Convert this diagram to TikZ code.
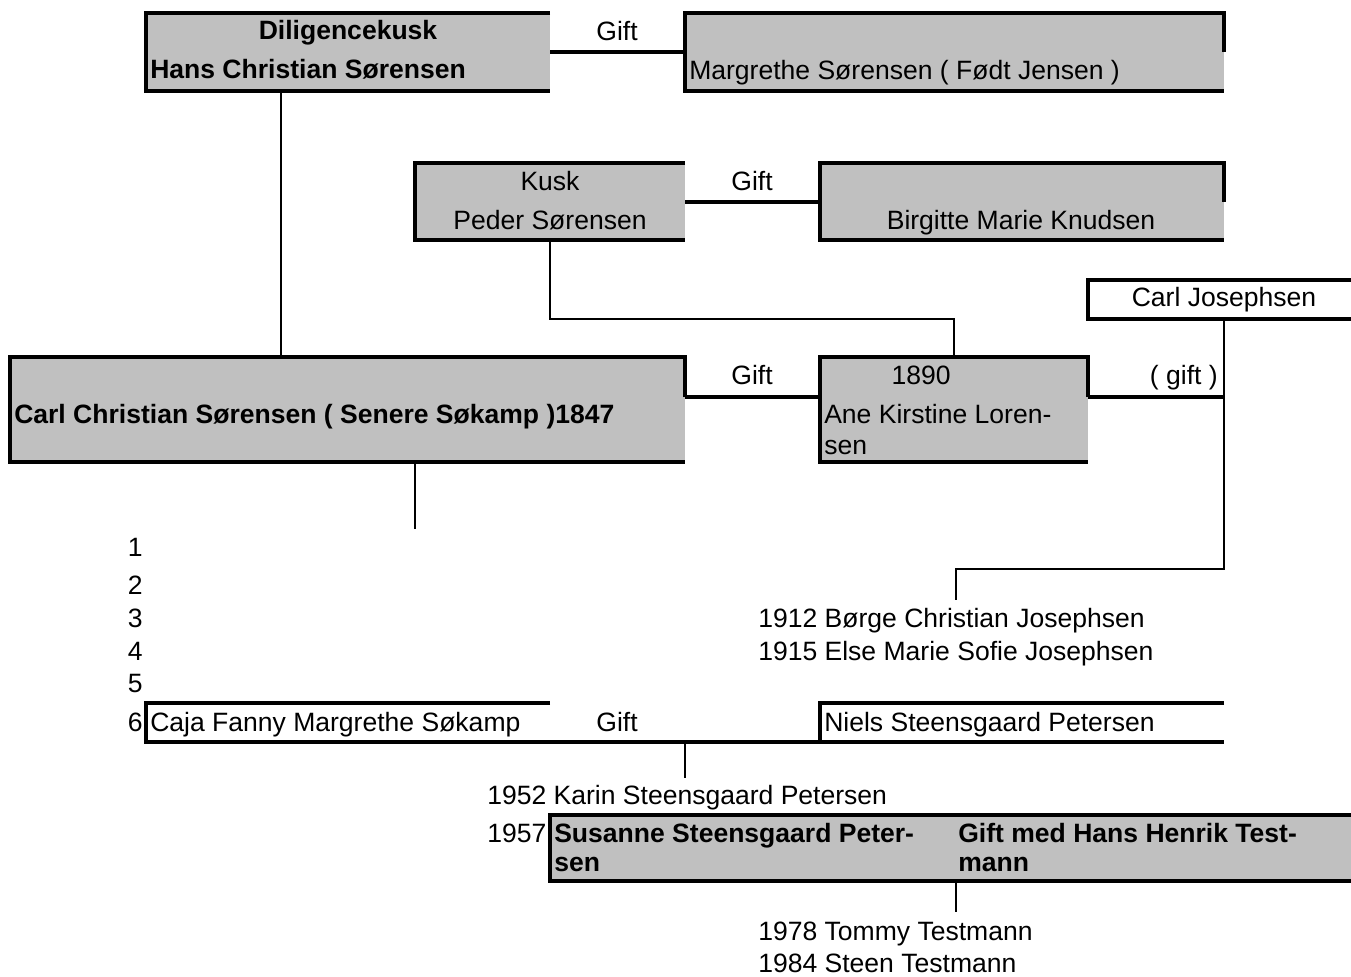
\documentclass[tikz,border=0pt]{standalone}
\usepackage{fontspec}
\setmainfont{Liberation Sans}
\usetikzlibrary{calc}
\definecolor{cellgray}{RGB}{192,192,192}

\begin{document}
\begin{tikzpicture}[x=0.75pt, y=-0.75pt,
  cell/.style={anchor=north west, inner sep=0pt, outer sep=0pt, fill=cellgray},
  blank/.style={cell, fill=white},
  rim/.style={line width=3pt},
  link/.style={line width=1.5pt},
  lbl/.style={anchor=base west, inner sep=0pt, yshift=0.75pt, font=\fontsize{19.9}{24}\selectfont},
  clbl/.style={lbl, anchor=base},
  rlbl/.style={lbl, anchor=base east},
  blbl/.style={lbl, font=\fontsize{19.9}{24}\selectfont\bfseries},
  bclbl/.style={blbl, anchor=base}]

\def\PX{0.75pt}

\useasboundingbox (0,0) rectangle (1351,976);

% Cells
\node[cell, minimum width=404*\PX, minimum height=78*\PX] (hcs) at (146,13) {};
\node[cell, minimum width=539*\PX, minimum height=78*\PX] (mgs) at (685,13) {};
\node[cell, minimum width=270*\PX, minimum height=77*\PX] (ps) at (415,163) {};
\node[cell, minimum width=404*\PX, minimum height=77*\PX] (bmk) at (820,163) {};
\node[blank, minimum width=263*\PX, minimum height=39*\PX] (cj) at (1088,280) {};
\node[cell, minimum width=675*\PX, minimum height=105*\PX] (ccs) at (10,357) {};
\node[cell, minimum width=268*\PX, minimum height=105*\PX] (aks) at (820,357) {};
\node[blank, minimum width=404*\PX, minimum height=39*\PX] (cfm) at (146,703) {};
\node[blank, minimum width=404*\PX, minimum height=39*\PX] (nsp) at (820,703) {};
\node[cell, minimum width=801*\PX, minimum height=66*\PX] (ssp) at (550,815) {};

% Cell borders
\draw[rim] (hcs.north east) -- (hcs.north west) -- (hcs.south west) -- (hcs.south east);
\draw[rim] (mgs.east) -- (mgs.north east) -- (mgs.north west) -- (mgs.south west) -- (mgs.south east);
\draw[rim] (ps.north east) -- (ps.north west) -- (ps.south west) -- (ps.south east);
\draw[rim] (bmk.east) -- (bmk.north east) -- (bmk.north west) -- (bmk.south west) -- (bmk.south east);
\draw[rim] (cj.north east) -- (cj.north west) -- (cj.south west) -- (cj.south east);
\coordinate (wed) at ($(ccs.north east)+(0,40)$);
\coordinate (wed2) at ($(aks.north east)+(0,40)$);
\draw[rim] (wed) -- (ccs.north east) -- (ccs.north west) -- (ccs.south west) -- (ccs.south east);
\draw[rim] (wed2) -- (aks.north east) -- (aks.north west) -- (aks.south west) -- (aks.south east);
\draw[rim] (cfm.north east) -- (cfm.north west) -- (cfm.south west) -- (nsp.south east);
\draw[rim] (nsp.north east) -- (nsp.north west) -- (nsp.south west);
\draw[rim] (ssp.north east) -- (ssp.north west) -- (ssp.south west) -- (ssp.south east);

% Marriages
\coordinate (cjx) at ($(cj.south west)+(136,0)$);
\draw[rim] (hcs.east) -- (mgs.west);
\draw[rim] (ps.east) -- (bmk.west);
\draw[rim] (wed) -- (wed -| aks.west);
\draw[rim] (wed2) -- (wed2 -| cjx);

% Descent
\coordinate (kids) at (956,569);
\draw[link] ($(hcs.south west)+(135,0)$) -- ($(ccs.north west)+(271,0)$);
\draw[link] (ps.south) -- (ps.south |- cj.south) -| (aks.north);
\draw[link] (cjx) |- (kids) -- ++(0,31);
\draw[link] ($(ccs.south west)+(405,0)$) -- ++(0,67);
\draw[link] ($(cfm.south east)!0.5!(nsp.south west)$) -- ++(0,36);
\draw[link] ($(ssp.south west)+(406,0)$) -- ++(0,31);

% Labels
\node[bclbl] (dk) at (348,40) {Diligencekusk};
\node[blbl] (hcsn) at (150,79) {Hans Christian Sørensen};
\node[clbl] (g1) at (617,41) {Gift};
\node[lbl] (mgsn) at (689,80) {Margrethe Sørensen ( Født Jensen )};
\node[clbl] (kusk) at (550,191) {Kusk};
\node[clbl] (psn) at (550,230) {Peder Sørensen};
\node[clbl] (g2) at (752,191) {Gift};
\node[clbl] (bmkn) at (1021,230) {Birgitte Marie Knudsen};
\node[clbl] (cjn) at (1224,307) {Carl Josephsen};
\node[clbl] (g3) at (752,385) {Gift};
\node[clbl] (yr) at (921,385) {1890};
\node[rlbl] (g4) at (1218,385) {( gift )};
\node[blbl] (ccsn) at (14,424) {Carl Christian Sørensen ( Senere Søkamp )1847};
\node[lbl] (aks1) at (824,424) {Ane Kirstine Loren-};
\node[lbl] (aks2) at (824,455) {sen};
\foreach \n/\y in {1/557,2/595,3/628,4/661,5/693,6/732}
  \node[rlbl] (n\n) at (143,\y) {\n};
\node[lbl] (b1) at (758,628) {1912 Børge Christian Josephsen};
\node[lbl] (b2) at (758,661) {1915 Else Marie Sofie Josephsen};
\node[lbl] (cfmn) at (150,732) {Caja Fanny Margrethe Søkamp};
\node[clbl] (g5) at (617,732) {Gift};
\node[lbl] (nspn) at (824,732) {Niels Steensgaard Petersen};
\node[lbl] (k1) at (487,805) {1952 Karin Steensgaard Petersen};
\node[lbl] (k2) at (487,843) {1957};
\node[blbl] (ssp1) at (554,843) {Susanne Steensgaard Peter-};
\node[blbl] (ssp2) at (554,872) {sen};
\node[blbl] (hht1) at (958,843) {Gift med Hans Henrik Test-};
\node[blbl] (hht2) at (958,872) {mann};
\node[lbl] (t1) at (758,941) {1978 Tommy Testmann};
\node[lbl] (t2) at (758,973) {1984 Steen Testmann};

\end{tikzpicture}
\end{document}
